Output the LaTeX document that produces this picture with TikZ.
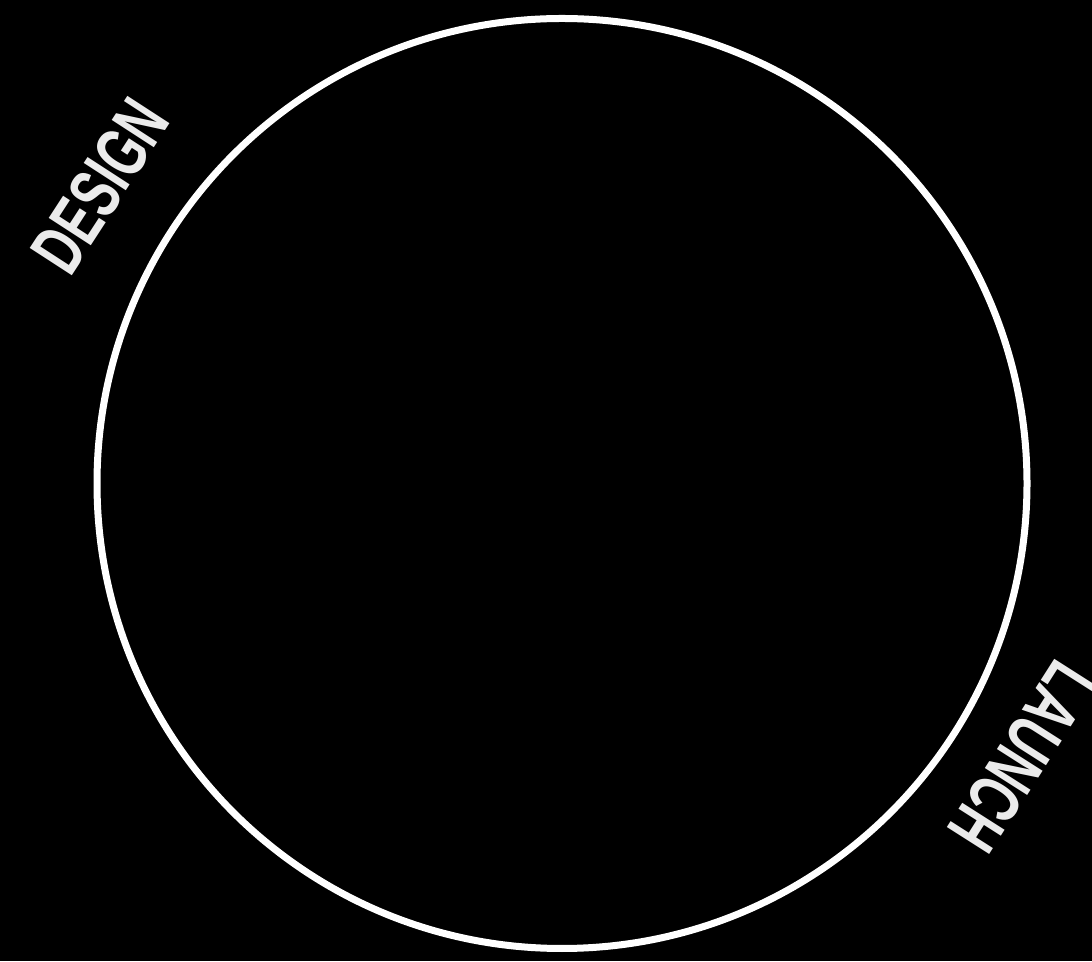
\documentclass[tikz,border=0pt]{standalone}
\usepackage{fontspec}
\newfontfamily\phasefont{Liberation Sans}
\usepackage{tikz}

\begin{document}
\begin{tikzpicture}[x=1pt, y=1pt,
    phase/.style={text=black!8, inner sep=0pt, font=\phasefont\bfseries\fontsize{73}{73}\selectfont}]
  \fill[black] (0,0) rectangle (1092,961);
  \useasboundingbox (0,0) rectangle (1092,961);
  \coordinate (centre) at (562,477.5);
  \draw[white, line width=7pt] (centre) circle(465);
  \node[phase, rotate=57, xscale=0.67] (design) at (100,775) {DESIGN};
  \node[phase, rotate=-122.5, xscale=0.67] (launch) at (1022,204) {LAUNCH};
\end{tikzpicture}
\end{document}
